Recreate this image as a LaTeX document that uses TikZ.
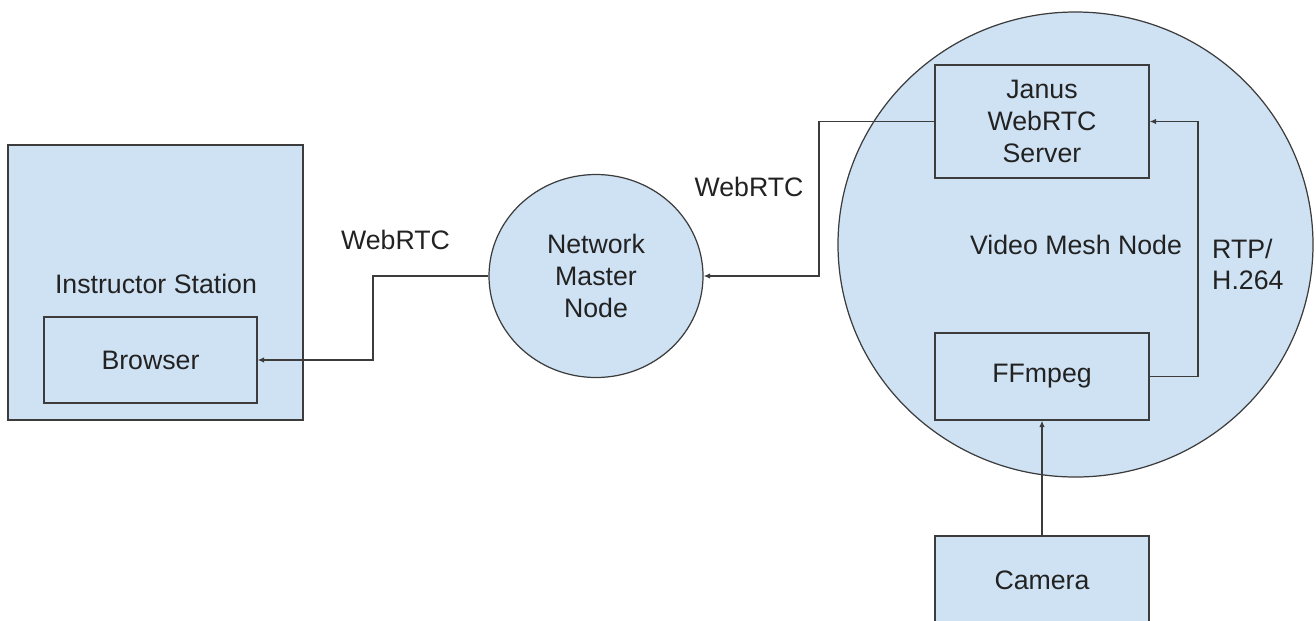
\documentclass[tikz,border=0pt]{standalone}
\usepackage{fontspec}
\setmainfont{Liberation Sans}
\usepackage{xcolor}
\usepackage{tikz}
\usetikzlibrary{arrows.meta,positioning,calc,shapes.geometric}
\definecolor{ink}{RGB}{34,34,34}
\definecolor{edge}{RGB}{60,60,60}
\definecolor{paleblue}{RGB}{207,226,243}
\tikzset{
  block/.style={draw=edge,fill=paleblue,line width=0.7pt,align=center,
    text=ink,inner sep=0pt},
  hub/.style={ellipse,draw=edge,fill=paleblue,line width=0.7pt,align=center,
    text=ink,inner sep=0pt},
  link/.style={edge,line width=0.7pt,-{Latex[length=1.3mm,width=1.1mm]}},
  tag/.style={font=\fontsize{15.2}{18}\selectfont,align=center,text=ink}
}
\begin{document}
\begin{tikzpicture}[font=\fontsize{15.2}{18}\selectfont]
  \useasboundingbox (0,0) rectangle (26.32,-12.4);
  \clip (0,0) rectangle (26.32,-12.4);
  % left side
  \node[block,minimum width=5.9cm,minimum height=5.5cm] (station) at (3.11,-5.65) {};
  \node[tag] (stationtxt) at (3.12,-5.68) {Instructor Station};
  \node[block,minimum width=4.26cm,minimum height=1.72cm] (browser) at (3.01,-7.2) {Browser};
  % middle
  \node[hub,minimum width=4.28cm,minimum height=4.06cm] (master) at (11.92,-5.52) {Network\\Master\\Node};
  % right side
  \node[hub,minimum width=9.5cm,minimum height=9.3cm] (mesh) at (21.51,-4.89) {};
  \node[tag] (meshtxt) at (21.52,-4.9) {Video Mesh Node};
  \node[block,minimum width=4.28cm,minimum height=2.26cm] (janus) at (20.84,-2.43) {Janus\\WebRTC\\Server};
  \node[block,minimum width=4.28cm,minimum height=1.74cm] (ffmpeg) at (20.84,-7.53) {FFmpeg};
  \node[block,minimum width=4.28cm,minimum height=1.76cm] (camera) at (20.84,-11.6) {Camera};
  % bends
  \coordinate (bendA) at (7.46,-5.52);
  \coordinate (bendB) at (16.38,-2.43);
  \coordinate (bendC) at (23.96,-7.53);
  \draw[link] (master.west) -- (bendA) |- (browser.east);
  \draw[link] (janus.west) -- (bendB) |- (master.east);
  \draw[link] (ffmpeg.east) -- (bendC) |- (janus.east);
  \draw[link] (camera.north) -- (ffmpeg.south);
  % labels
  \node[tag] (rtcA) at (7.91,-4.8) {WebRTC};
  \node[tag] (rtcB) at (14.98,-3.74) {WebRTC};
  \node[tag,align=left,anchor=west] (rtp) at (24.12,-5.29) {RTP/\\H.264};
\end{tikzpicture}
\end{document}
